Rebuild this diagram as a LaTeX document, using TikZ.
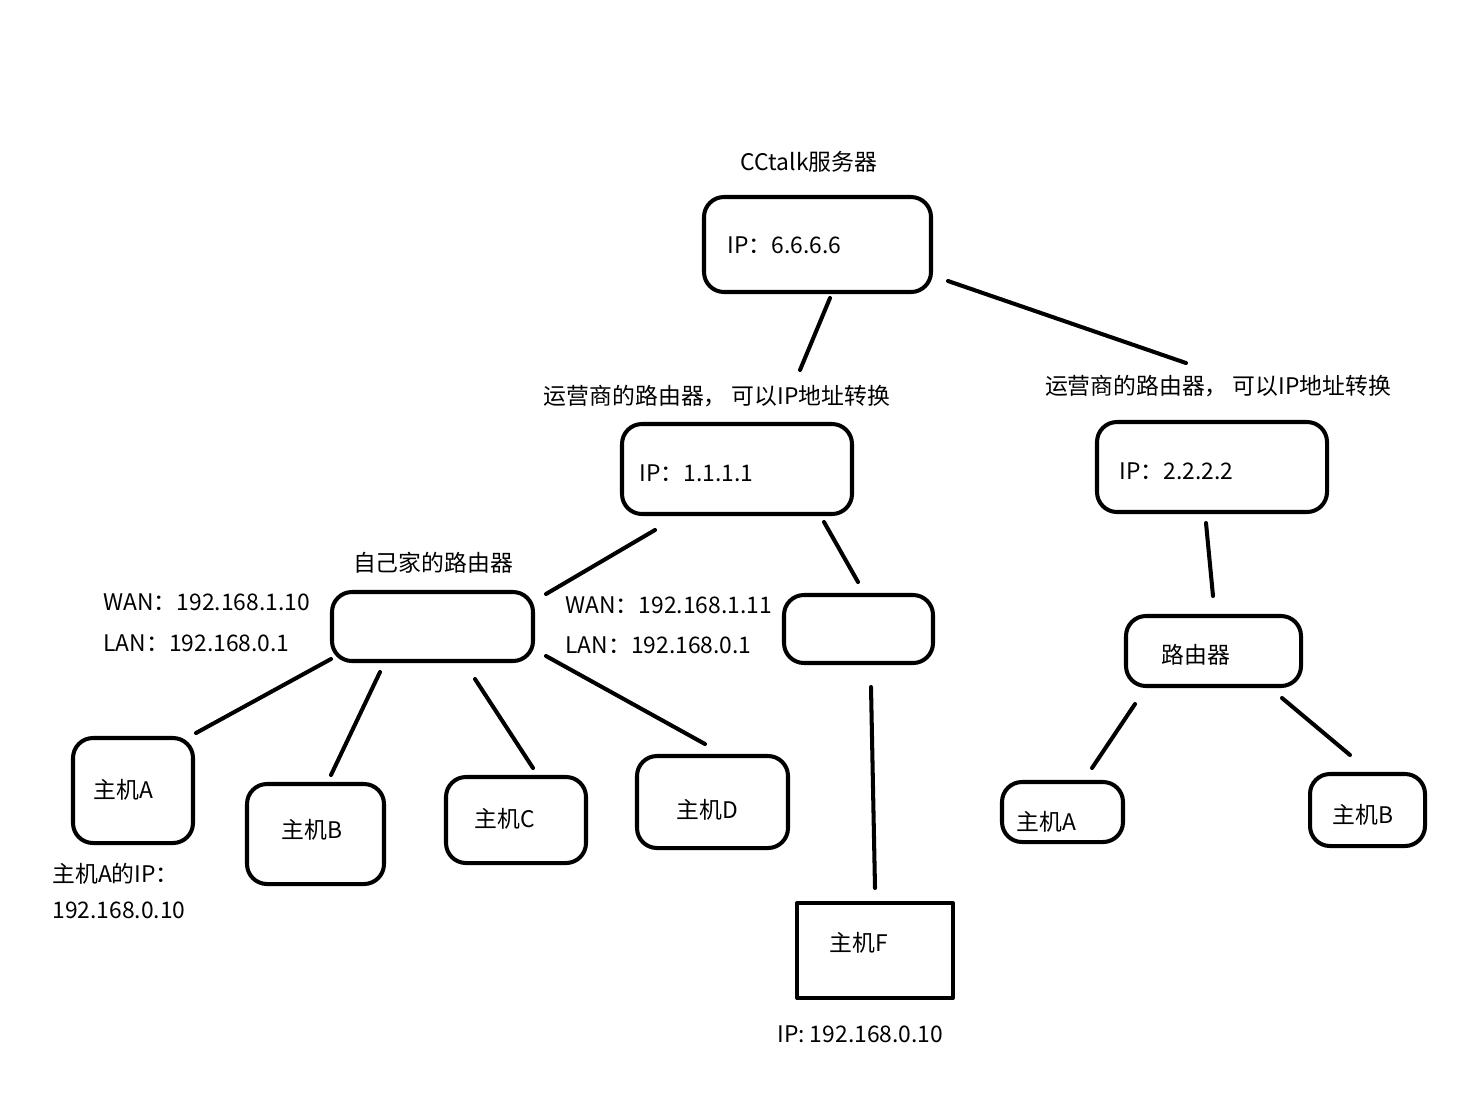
\documentclass[tikz,border=0pt]{standalone}
\usepackage{fontspec}
\setmainfont{Noto Sans CJK SC}
\usetikzlibrary{fit,positioning}

\tikzset{
  box/.style={draw, line width=2.3pt, rounded corners=0.4cm, inner sep=0pt},
  sqbox/.style={draw, line width=2.3pt, inner sep=0pt},
  lbl/.style={anchor=west, inner sep=0pt, font=\fontsize{13pt}{16pt}\selectfont},
  ttl/.style={inner sep=0pt, font=\fontsize{13pt}{16pt}\selectfont},
  wire/.style={line width=2.3pt, line cap=round}
}

\begin{document}
\begin{tikzpicture}[x=0.02cm,y=-0.02cm,line join=round]
  \useasboundingbox (0,0) rectangle (1483,1110);
  % boxes
  \node[box, fit={(704,197) (931,292)}] (srv) {};
  \node[box, fit={(622,424) (852,514)}] (ispa) {};
  \node[box, fit={(1097,422) (1327,512)}] (ispb) {};
  \node[box, fit={(332,592) (533,661)}] (home) {};
  \node[box, fit={(784,595) (933,663)}] (rtb) {};
  \node[box, fit={(1126,616) (1301,686)}] (rtc) {};
  \node[box, fit={(73,738) (193,843)}] (ha) {};
  \node[box, fit={(247,784) (384,884)}] (hb) {};
  \node[box, fit={(446,777) (586,863)}] (hc) {};
  \node[box, fit={(637,756) (788,848)}] (hd) {};
  \node[sqbox, fit={(797,903) (953,998)}] (hf) {};
  \node[box, fit={(1002,782) (1123,842)}] (ra) {};
  \node[box, fit={(1310,774) (1425,846)}] (rb) {};
  % texts
  \node[ttl] (srvname) at (809,162) {CCtalk服务器};
  \node[lbl] (srvip) at (727,245) {IP：6.6.6.6};
  \node[ttl] (ispaname) at (717,396) {运营商的路由器， 可以IP地址转换};
  \node[ttl] (ispbname) at (1218,386) {运营商的路由器， 可以IP地址转换};
  \node[lbl] (ispaip) at (639,473) {IP：1.1.1.1};
  \node[lbl] (ispbip) at (1119,471) {IP：2.2.2.2};
  \node[ttl] (homename) at (433,563) {自己家的路由器};
  \node[lbl] (homewan) at (103,602) {WAN：192.168.1.10};
  \node[lbl] (homelan) at (103,643) {LAN：192.168.0.1};
  \node[lbl] (rtbwan) at (565,605) {WAN：192.168.1.11};
  \node[lbl] (rtblan) at (565,645) {LAN：192.168.0.1};
  \node[lbl] (rtcname) at (1161,655) {路由器};
  \node[lbl] (hatxt) at (93,790) {主机A};
  \node[lbl] (hbtxt) at (281,830) {主机B};
  \node[lbl] (hctxt) at (474,819) {主机C};
  \node[lbl] (hdtxt) at (676,810) {主机D};
  \node[lbl] (hftxt) at (829,943) {主机F};
  \node[lbl] (ratxt) at (1016,822) {主机A};
  \node[lbl] (rbtxt) at (1332,815) {主机B};
  \node[lbl] (haip) at (52,874) {主机A的IP：};
  \node[lbl] (haipv) at (52,910) {192.168.0.10};
  \node[lbl] (hfip) at (777,1034) {IP: 192.168.0.10};
  % wire ends
  \coordinate (s1) at (830,298);   \coordinate (a1) at (800,370);
  \coordinate (s2) at (948,281);   \coordinate (b1) at (1186,363);
  \coordinate (a2) at (655,530);   \coordinate (h1) at (546,594);
  \coordinate (a3) at (824,522);   \coordinate (t1) at (858,582);
  \coordinate (b2) at (1206,523);  \coordinate (c1) at (1213,596);
  \coordinate (h2) at (331,659);   \coordinate (ha1) at (196,733);
  \coordinate (h3) at (380,672);   \coordinate (hb1) at (331,775);
  \coordinate (h4) at (475,679);   \coordinate (hc1) at (533,768);
  \coordinate (h5) at (546,656);   \coordinate (hd1) at (705,744);
  \coordinate (t2) at (871,687);   \coordinate (hf1) at (875,888);
  \coordinate (c2) at (1135,704);  \coordinate (ra1) at (1092,768);
  \coordinate (c3) at (1282,698);  \coordinate (rb1) at (1350,755);
  % wires
  \draw[wire] (s1) -- (a1);
  \draw[wire] (s2) -- (b1);
  \draw[wire] (a2) -- (h1);
  \draw[wire] (a3) -- (t1);
  \draw[wire] (b2) -- (c1);
  \draw[wire] (h2) -- (ha1);
  \draw[wire] (h3) -- (hb1);
  \draw[wire] (h4) -- (hc1);
  \draw[wire] (h5) -- (hd1);
  \draw[wire] (t2) -- (hf1);
  \draw[wire] (c2) -- (ra1);
  \draw[wire] (c3) -- (rb1);
\end{tikzpicture}
\end{document}
